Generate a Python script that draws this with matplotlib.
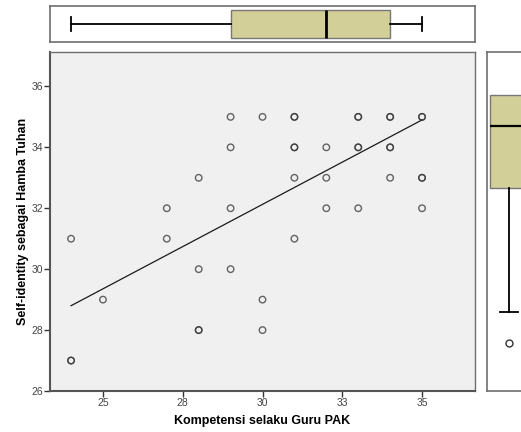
import matplotlib
matplotlib.use("Agg")
import matplotlib.pyplot as plt
import numpy as np

plt.rcParams['font.family'] = ['Liberation Sans', 'DejaVu Sans']

# Scatter data (duplicates listed repeatedly)
kompetensi = [24, 24, 24, 25, 27, 27, 28, 28, 28, 28,
              29, 29, 29, 29, 30, 30, 30,
              31, 31, 31, 31, 31, 31,
              32, 32, 32,
              33, 33, 33, 33, 33,
              34, 34, 34, 34, 34,
              35, 35, 35, 35, 35]
self_identity = [31, 27, 27, 29, 32, 31, 33, 30, 28, 28,
                 35, 34, 32, 30, 35, 29, 28,
                 35, 35, 34, 34, 33, 31,
                 34, 33, 32,
                 35, 35, 34, 34, 32,
                 35, 35, 34, 34, 33,
                 35, 35, 33, 33, 32]

# Fit line endpoints
fit_x = [24, 35]
fit_y = [28.8, 34.9]

# Boxplot stats
x_box = dict(whislo=24, q1=29, med=32, q3=34, whishi=35, fliers=[])
y_box = dict(whislo=28, q1=32, med=34, q3=35, whishi=35, fliers=[27])

xticks = [25, 27.5, 30, 32.5, 35]
xticklabels = ['25', '28', '30', '33', '35']
yticks = [26, 28, 30, 32, 34, 36]
yticklabels = ['26', '28', '30', '32', '34', '36']

W, H = 521, 432
fig = plt.figure(figsize=(W / 100, H / 100), dpi=100)

def rect(x0, y0, x1, y1):
    return [x0 / W, 1 - y1 / H, (x1 - x0) / W, (y1 - y0) / H]

frame_col = '#6e6e6e'
box_fill = '#d3cf98'

# Main scatter
ax = fig.add_axes(rect(50, 52, 475, 391))
ax.set_facecolor('#f0f0f0')
ax.scatter(kompetensi, self_identity, s=22, facecolors='none',
           edgecolors='#333333', linewidths=1.0, alpha=0.75, zorder=3)
ax.plot(fit_x, fit_y, color='#1a1a1a', lw=0.9, zorder=2)
ax.set_xlim(23.34, 36.66)
ax.set_ylim(26, 37.13)
ax.set_xticks(xticks)
ax.set_xticklabels(xticklabels)
ax.set_yticks(yticks)
ax.set_yticklabels(yticklabels)
ax.tick_params(axis='both', direction='out', length=4, width=1, color='#333333',
               labelsize=7.5, labelcolor='#444444', pad=1)
for s in ['top', 'right']:
    ax.spines[s].set_color(frame_col)
    ax.spines[s].set_linewidth(1.0)
for s in ['left', 'bottom']:
    ax.spines[s].set_color('#555555')
    ax.spines[s].set_linewidth(1.5)
ax.set_xlabel('Kompetensi selaku Guru PAK', fontsize=9, fontweight='bold', labelpad=5)
ax.set_ylabel('Self-identity sebagai Hamba Tuhan', fontsize=9, fontweight='bold', labelpad=2)

# Top boxplot
axt = fig.add_axes(rect(50, 6, 475, 42))
axt.bxp([x_box], positions=[0], vert=False, widths=0.85, patch_artist=True,
        showfliers=False,
        boxprops=dict(facecolor=box_fill, edgecolor='#777777', linewidth=1.0),
        medianprops=dict(color='black', linewidth=2),
        whiskerprops=dict(color='black', linewidth=1.3),
        capprops=dict(color='black', linewidth=1.3), capwidths=0.4)
axt.set_xlim(23.34, 36.66)
axt.set_ylim(-0.55, 0.55)
axt.set_xticks([])
axt.set_yticks([])
for s in axt.spines.values():
    s.set_color(frame_col)
    s.set_linewidth(1.2)

# Right boxplot
axr = fig.add_axes(rect(487, 52, 531, 391))
bp = axr.bxp([y_box], positions=[0], vert=True, widths=0.85, patch_artist=True,
             showfliers=True,
             boxprops=dict(facecolor=box_fill, edgecolor='#777777', linewidth=1.0),
             medianprops=dict(color='black', linewidth=1.6),
             whiskerprops=dict(color='black', linewidth=1.3),
             capprops=dict(color='black', linewidth=1.3), capwidths=0.4,
             flierprops=dict(marker='o', markerfacecolor='none', markeredgecolor='#333333',
                             markersize=5, markeredgewidth=1.0))
# upper whisker coincides with Q3: no visible cap
bp['caps'][1].set_visible(False)
axr.set_ylim(25.45, 36.4)
axr.set_xlim(-0.5, 0.5)
axr.set_xticks([])
axr.set_yticks([])
for s in axr.spines.values():
    s.set_color(frame_col)
    s.set_linewidth(1.2)

fig.savefig('out.png', dpi=100)
